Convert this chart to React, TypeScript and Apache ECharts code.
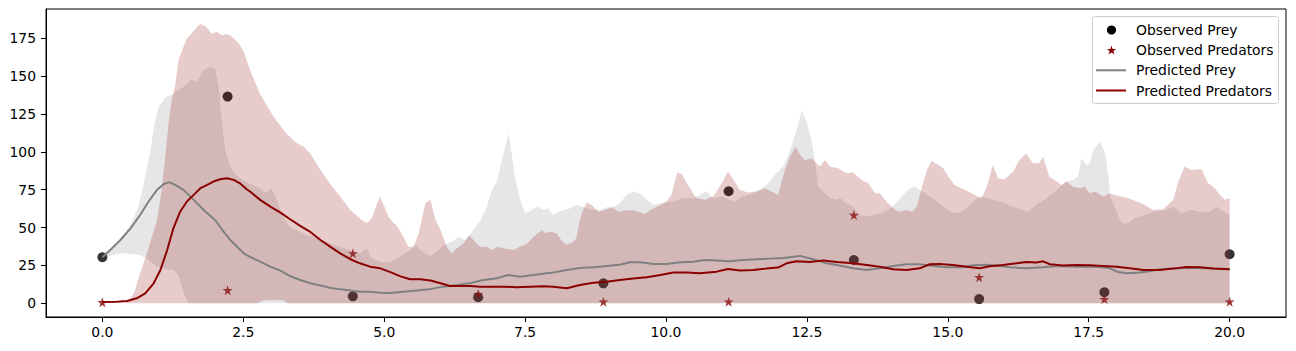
import React, { useEffect, useRef } from "react";
import * as echarts from "echarts";

// ---- data ----
const obsT = [0, 2.222, 4.444, 6.667, 8.889, 11.111, 13.333, 15.556, 17.778, 20];
const obsPrey = [30.4, 136.5, 4.6, 4.0, 13.2, 74.0, 28.6, 2.8, 7.3, 32.4];
const obsPred = [0.7, 8.6, 33.0, 6.1, 1.1, 1.1, 58.3, 17.2, 2.8, 1.1];

const xTicks = [0, 2.5, 5, 7.5, 10, 12.5, 15, 17.5, 20];
const yTicks = [0, 25, 50, 75, 100, 125, 150, 175];

const preyMean: [number, number][] = [
  [0, 30.4], [0.14, 35.2], [0.32, 41.8], [0.5, 49.5], [0.67, 58.3], [0.82, 67.2], [0.97, 74.9], [1.09, 78.8],
  [1.19, 80], [1.29, 78.2], [1.44, 74.9], [1.62, 68.3], [1.83, 60.5], [2.0, 55], [2.15, 47.3], [2.27, 41.8],
  [2.39, 37.4], [2.51, 33], [2.62, 30.6], [2.8, 27.5], [2.98, 24.2], [3.16, 21.6], [3.33, 18], [3.51, 15.4],
  [3.69, 13.2], [3.87, 11.7], [4.04, 10.3], [4.22, 9.2], [4.4, 8.4], [4.57, 7.7], [4.75, 7.7], [4.93, 7],
  [5.1, 6.8], [5.34, 7.7], [5.58, 8.4], [5.8, 9.2], [6.04, 11], [6.29, 12.1], [6.52, 13.2], [6.76, 15.4],
  [7.0, 16.5], [7.2, 18.7], [7.41, 17.6], [7.65, 18.7], [7.88, 19.8], [8.0, 20.3], [8.24, 22], [8.47, 23.3],
  [8.71, 23.8], [8.95, 24.7], [9.18, 25.5], [9.36, 27.1], [9.54, 27.1], [9.78, 26], [10.01, 26], [10.25, 27.1],
  [10.48, 27.5], [10.69, 28.6], [10.9, 28.2], [11.13, 27.7], [11.37, 28.6], [11.61, 29.1], [11.84, 29.5],
  [12.08, 29.9], [12.38, 31.3], [12.61, 29.1], [12.85, 26.4], [13.03, 25.3], [13.32, 23.1], [13.56, 22],
  [13.79, 23.1], [14.03, 24.7], [14.27, 25.8], [14.5, 25.8], [14.74, 24.7], [14.98, 23.8], [15.21, 23.8],
  [15.45, 25.1], [15.69, 25.5], [15.92, 24.7], [16.1, 23.8], [16.39, 23.1], [16.69, 23.8], [16.98, 24.7],
  [17.28, 24.2], [17.64, 24.2], [17.88, 23.1], [18.0, 20.9], [18.17, 19.8], [18.41, 20.3], [18.58, 21.2],
  [18.76, 22.5], [19.0, 22.9], [19.23, 23.3], [19.47, 23.3], [19.71, 22.9], [20.0, 22.5],
];

const predMean: [number, number][] = [
  [0, 0.9], [0.26, 1], [0.44, 1.5], [0.61, 3.3], [0.76, 6.6], [0.91, 13.2], [1.03, 22], [1.15, 35.2],
  [1.26, 49.5], [1.38, 60.5], [1.5, 67.2], [1.62, 71.6], [1.74, 76], [1.86, 78.2], [1.97, 80.4], [2.09, 81.9],
  [2.21, 82.6], [2.33, 81.5], [2.45, 79], [2.56, 75.3], [2.62, 73.8], [2.8, 68.3], [2.98, 63.8], [3.16, 59.9],
  [3.33, 55.5], [3.51, 51.1], [3.69, 47.1], [3.87, 41.8], [4.04, 37.4], [4.22, 33], [4.4, 29.1], [4.57, 26.4],
  [4.75, 24.2], [4.93, 23.1], [5.11, 20.6], [5.29, 17.8], [5.46, 15.9], [5.64, 15.9], [5.82, 15], [6.0, 13.2],
  [6.17, 11.4], [6.35, 11.4], [6.53, 11.4], [6.7, 11], [6.88, 11], [7.12, 11], [7.35, 10.6], [7.59, 11],
  [7.83, 11.2], [8.0, 11], [8.24, 9.9], [8.47, 12.1], [8.71, 13.6], [8.95, 14.3], [9.18, 15.4], [9.42, 16.3],
  [9.66, 17.2], [9.9, 18.7], [10.13, 20.3], [10.37, 20.3], [10.6, 19.8], [10.9, 20.9], [11.1, 22.7],
  [11.31, 21.6], [11.55, 22], [11.78, 22.9], [11.99, 23.6], [12.14, 26.4], [12.32, 27.7], [12.55, 27.3],
  [12.79, 28.2], [13.03, 27.3], [13.32, 26.4], [13.56, 25.3], [13.79, 24.2], [14.03, 22.5], [14.27, 22],
  [14.5, 23.1], [14.68, 25.8], [14.86, 26], [15.09, 25.3], [15.33, 24.2], [15.57, 23.1], [15.74, 24.4],
  [15.98, 25.3], [16.22, 26.4], [16.39, 27.3], [16.57, 26.9], [16.69, 27.7], [16.81, 25.8], [17.05, 24.9],
  [17.28, 25.3], [17.52, 25.1], [17.76, 24.7], [18.0, 24.2], [18.23, 23.1], [18.47, 22], [18.76, 22],
  [19.0, 22.9], [19.23, 24], [19.47, 23.8], [19.71, 22.9], [20.0, 22.5],
];

const preyUpper: [number, number][] = [
  [0, 30.4], [0.15, 36], [0.32, 42], [0.5, 52], [0.65, 65], [0.75, 82], [0.85, 100], [0.93, 120], [1.0, 130],
  [1.12, 136], [1.24, 137.6], [1.32, 140], [1.44, 143], [1.56, 147.5], [1.68, 146.4], [1.8, 154], [1.91, 156],
  [2.0, 155], [2.06, 143], [2.12, 121], [2.18, 101], [2.27, 90], [2.39, 84], [2.5, 81], [2.62, 79], [2.8, 76],
  [2.9, 73], [3.0, 76], [3.1, 68], [3.2, 57], [3.33, 50.6], [3.57, 46], [3.81, 43], [4.04, 39.6], [4.22, 37.4],
  [4.4, 35], [4.57, 33], [4.69, 36.3], [4.78, 29.7], [4.93, 27.5], [5.1, 27], [5.28, 30.8], [5.46, 35.2],
  [5.55, 38.5], [5.64, 35.2], [5.73, 33], [5.82, 31.3], [5.93, 34], [6.05, 38.5], [6.2, 40.7], [6.32, 43.6],
  [6.44, 41.8], [6.56, 47.3], [6.71, 55], [6.82, 63.8], [6.91, 74.9], [7.0, 80.4], [7.06, 90.3], [7.15, 103.5],
  [7.21, 112.3], [7.26, 99], [7.32, 83.7], [7.41, 68.3], [7.5, 59.4], [7.62, 61.6], [7.71, 63.8], [7.83, 61.6],
  [7.91, 62.7], [7.99, 58.3], [8.1, 60.5], [8.3, 62.7], [8.42, 65], [8.53, 63.8], [8.65, 62], [8.83, 61.6],
  [8.95, 63.4], [9.07, 63.8], [9.18, 66], [9.3, 71.6], [9.42, 73.8], [9.54, 72.7], [9.66, 68.3], [9.78, 65],
  [9.9, 66], [10.01, 66.5], [10.13, 67.2], [10.31, 69.4], [10.48, 69.4], [10.6, 71.6], [10.72, 74.2],
  [10.84, 69.4], [10.99, 70.5], [11.2, 67.2], [11.37, 70.5], [11.55, 72.7], [11.78, 78], [11.96, 85.9],
  [12.08, 90.3], [12.2, 101], [12.32, 114.5], [12.41, 127.3], [12.5, 119], [12.58, 108], [12.64, 94.7],
  [12.7, 77], [12.79, 73.8], [12.91, 69.4], [13.03, 68.3], [13.09, 69.4], [13.2, 66], [13.32, 63.8],
  [13.44, 58.3], [13.56, 57.2], [13.68, 58.3], [13.82, 59.4], [13.94, 61.6], [14.06, 65], [14.18, 70.5],
  [14.33, 76], [14.42, 77], [14.5, 74.9], [14.63, 71.6], [14.74, 69.4], [14.92, 63.8], [15.09, 59.4],
  [15.21, 59.9], [15.33, 62.7], [15.48, 68.3], [15.6, 70.5], [15.69, 69.4], [15.81, 68.3], [15.98, 66.5],
  [16.22, 62.7], [16.42, 60.5], [16.57, 65], [16.75, 69.4], [16.93, 74.9], [17.1, 80.4], [17.22, 81.5],
  [17.31, 83.7], [17.37, 95.8], [17.46, 91.4], [17.52, 92.5], [17.58, 101.3], [17.7, 106.8], [17.79, 99],
  [17.85, 83.7], [17.88, 70.5], [17.96, 63.8], [18.05, 55], [18.11, 52.8], [18.2, 52.8], [18.31, 56],
  [18.49, 58.3], [18.64, 60.5], [18.88, 61.6], [19.0, 63.8], [19.14, 59.4], [19.32, 61.6], [19.47, 60.5],
  [19.65, 60.5], [19.77, 63.8], [19.89, 60.5], [20.0, 58.3],
];

const preyLower: [number, number][] = [
  [0, 30.4], [0.38, 33], [0.67, 31.9], [0.79, 29.7], [0.97, 24.2], [1.12, 22.5], [1.26, 22], [1.35, 18.7],
  [1.41, 11], [1.47, 4.4], [1.52, 0], [20, 0],
];

const predUpper: [number, number][] = [
  [0, 0], [0.4, 0], [0.47, 2.2], [0.56, 6.6], [0.67, 19.8], [0.79, 33], [0.97, 55], [1.06, 77], [1.12, 99],
  [1.18, 121], [1.24, 136.5], [1.29, 143], [1.35, 160.7], [1.44, 169.5], [1.5, 175], [1.56, 177], [1.68, 182.7],
  [1.74, 184.5], [1.83, 183], [1.89, 180.5], [1.94, 178], [2.03, 179.4], [2.12, 177], [2.21, 177.9], [2.3, 176],
  [2.42, 171.7], [2.51, 166], [2.56, 160.7], [2.62, 154], [2.8, 138], [3.04, 123], [3.27, 112], [3.45, 105.7],
  [3.57, 103.5], [3.69, 99], [3.87, 88], [4.04, 79], [4.22, 70.5], [4.4, 61.6], [4.57, 56], [4.69, 52.8],
  [4.78, 56], [4.92, 70.5], [4.99, 65], [5.08, 57], [5.17, 52.8], [5.22, 51.7], [5.34, 44], [5.43, 37.4],
  [5.52, 37.4], [5.61, 46], [5.73, 66], [5.82, 68.3], [5.91, 55], [6.0, 48.4], [6.11, 37.4], [6.2, 33],
  [6.29, 36.3], [6.41, 39.6], [6.51, 45], [6.61, 40.7], [6.7, 37.4], [6.82, 37.4], [6.91, 35.2], [7.0, 37.4],
  [7.12, 36.3], [7.29, 35.2], [7.41, 37.4], [7.53, 39.2], [7.65, 44], [7.8, 48.4], [7.85, 46.2], [7.94, 47.3],
  [8.06, 46.2], [8.14, 41.8], [8.23, 38.5], [8.33, 40], [8.41, 43], [8.47, 55], [8.53, 61.6], [8.59, 66.5],
  [8.68, 65], [8.8, 60.5], [8.92, 61.6], [9.04, 63.4], [9.16, 60.5], [9.28, 61.2], [9.42, 61.6], [9.54, 59.9],
  [9.63, 59], [9.72, 61.6], [9.84, 63.8], [10.01, 67.2], [10.1, 72], [10.2, 86.3], [10.28, 85.4], [10.37, 79.3],
  [10.46, 73.8], [10.54, 69.4], [10.69, 68.3], [10.84, 70.5], [10.99, 79.3], [11.1, 87], [11.2, 81.5],
  [11.31, 74.9], [11.46, 73.1], [11.61, 73.8], [11.76, 76], [11.87, 73.8], [11.99, 71.6], [12.11, 88],
  [12.2, 96.9], [12.3, 103.5], [12.38, 98], [12.46, 94.7], [12.58, 95.8], [12.67, 92.5], [12.73, 90.3],
  [12.82, 94.7], [12.91, 90.3], [13.06, 89.2], [13.2, 85.9], [13.32, 86.3], [13.47, 81.5], [13.59, 79.3],
  [13.71, 72.7], [13.79, 72.7], [13.91, 67.2], [14.03, 62.7], [14.12, 60.5], [14.27, 61.6], [14.36, 60.5],
  [14.45, 63.8], [14.54, 77], [14.63, 88], [14.71, 94.2], [14.83, 91.4], [14.92, 89.2], [15.01, 83.7],
  [15.12, 78.2], [15.24, 76], [15.36, 73.8], [15.48, 71.6], [15.6, 69.4], [15.69, 77], [15.8, 91.4],
  [15.89, 82.6], [16.01, 81.9], [16.16, 87], [16.27, 94.7], [16.39, 99], [16.51, 92.5], [16.62, 92.5],
  [16.69, 96.9], [16.8, 83.7], [16.93, 80.4], [17.02, 78.2], [17.1, 80.4], [17.22, 77], [17.34, 76],
  [17.43, 77], [17.52, 72.7], [17.61, 73.8], [17.76, 70.5], [17.87, 72.7], [17.96, 71.6], [18.08, 70.5],
  [18.2, 69.4], [18.35, 67.2], [18.49, 65], [18.64, 61.6], [18.82, 62.1], [19.0, 68.3], [19.08, 79.3],
  [19.2, 90.3], [19.32, 88], [19.5, 88.5], [19.62, 79.3], [19.71, 77], [19.83, 71.6], [19.91, 68.3], [20.0, 69.4],
];

const predLower: [number, number][] = [
  [0, 0], [2.75, 0], [2.85, 1.8], [3.0, 2.2], [3.2, 2.0], [3.3, 0], [20, 0],
];

// ---- styling ----
const FONT = "DejaVu Sans";
const GRAY = "#808080";
const DARKRED = "#8b0000";
const STAR_PATH =
  "path://M0,-1L0.2245,-0.309L0.9511,-0.309L0.3633,0.118L0.5878,0.809L0,0.382L-0.5878,0.809L-0.3633,0.118L-0.9511,-0.309L-0.2245,-0.309Z";

function bandSeries(name: string, upper: [number, number][], lower: [number, number][], fill: string) {
  return {
    name,
    type: "custom",
    silent: true,
    z: 3,
    data: [upper[0]],
    renderItem: (_params: any, api: any) => {
      const pts = upper.map((p) => api.coord(p)).concat(lower.slice().reverse().map((p) => api.coord(p)));
      return { type: "polygon", shape: { points: pts }, style: { fill } };
    },
  };
}

function starPoints(cx: number, cy: number, R: number) {
  const pts: number[][] = [];
  for (let k = 0; k < 10; k++) {
    const r = k % 2 === 0 ? R : R * 0.382;
    const a = (-90 + k * 36) * (Math.PI / 180);
    pts.push([cx + r * Math.cos(a), cy + r * Math.sin(a)]);
  }
  return pts;
}

const legendRows = [
  { label: "Observed Prey", y: 30 },
  { label: "Observed Predators", y: 50 },
  { label: "Predicted Prey", y: 70.3 },
  { label: "Predicted Predators", y: 90.5 },
];

export default function App() {
  const ref = useRef<HTMLDivElement>(null);
  useEffect(() => {
    if (!ref.current) return;
    const chart = echarts.init(ref.current, undefined, { renderer: "svg" });
    const hx = 1111.5;
    const option: any = {
      animation: false,
      backgroundColor: "#fff",
      grid: { left: 46, right: 10, top: 9, bottom: 34, show: true, borderColor: "#000", borderWidth: 1, backgroundColor: "transparent" },
      xAxis: {
        type: "value",
        min: -1,
        max: 21,
        splitLine: { show: false },
        axisLine: { show: true, onZero: false, lineStyle: { color: "#000", width: 1 } },
        axisTick: { show: true, inside: false, length: 5, customValues: xTicks, lineStyle: { color: "#000", width: 1 } },
        axisLabel: { customValues: xTicks, formatter: (v: number) => v.toFixed(1), color: "#000", fontSize: 13.9, fontFamily: FONT, margin: 8 },
      },
      yAxis: {
        type: "value",
        min: -9.05,
        max: 194.35,
        splitLine: { show: false },
        axisLine: { show: true, onZero: false, lineStyle: { color: "#000", width: 1 } },
        axisTick: { show: true, inside: false, length: 5, customValues: yTicks, lineStyle: { color: "#000", width: 1 } },
        axisLabel: { customValues: yTicks, formatter: (v: number) => String(v), color: "#000", fontSize: 13.9, fontFamily: FONT, margin: 10 },
      },
      series: [
        {
          name: "Observed Prey",
          type: "scatter",
          z: 2,
          symbol: "circle",
          symbolSize: 10,
          itemStyle: { color: "#000" },
          data: obsT.map((t, i) => [t, obsPrey[i]]),
        },
        {
          name: "Observed Predators",
          type: "scatter",
          z: 2,
          symbol: STAR_PATH,
          symbolSize: 10,
          itemStyle: { color: DARKRED },
          data: obsT.map((t, i) => [t, obsPred[i]]),
        },
        bandSeries("Prey band", preyUpper, preyLower, "rgba(128,128,128,0.2)"),
        bandSeries("Predator band", predUpper, predLower, "rgba(139,0,0,0.2)"),
        {
          name: "Predicted Prey",
          type: "line",
          z: 4,
          showSymbol: false,
          symbol: "none",
          lineStyle: { color: GRAY, width: 2 },
          data: preyMean,
        },
        {
          name: "Predicted Predators",
          type: "line",
          z: 4,
          showSymbol: false,
          symbol: "none",
          lineStyle: { color: DARKRED, width: 2 },
          data: predMean,
        },
      ],
      graphic: [
        {
          type: "group",
          z: 100,
          children: [
            { type: "rect", shape: { x: 1092.5, y: 16.5, width: 186, height: 87, r: 3 }, style: { fill: "rgba(255,255,255,0.8)", stroke: "#cccccc", lineWidth: 1 } },
            { type: "circle", shape: { cx: hx, cy: legendRows[0].y, r: 4.6 }, style: { fill: "#000" } },
            { type: "polygon", shape: { points: starPoints(hx, legendRows[1].y + 0.5, 5) }, style: { fill: DARKRED } },
            { type: "line", shape: { x1: 1096, y1: legendRows[2].y, x2: 1126, y2: legendRows[2].y }, style: { stroke: GRAY, lineWidth: 2 } },
            { type: "line", shape: { x1: 1096, y1: legendRows[3].y, x2: 1126, y2: legendRows[3].y }, style: { stroke: DARKRED, lineWidth: 2 } },
            ...legendRows.map((r) => ({
              type: "text",
              x: 1136,
              y: r.y,
              style: { text: r.label, fill: "#000", fontSize: 13.9, fontFamily: FONT, verticalAlign: "middle", align: "left" },
            })),
          ],
        },
      ],
    };
    chart.setOption(option);
    return () => chart.dispose();
  }, []);
  return <div ref={ref} style={{ position: "absolute", left: 0, top: 0, width: 1296, height: 351 }} />;
}
